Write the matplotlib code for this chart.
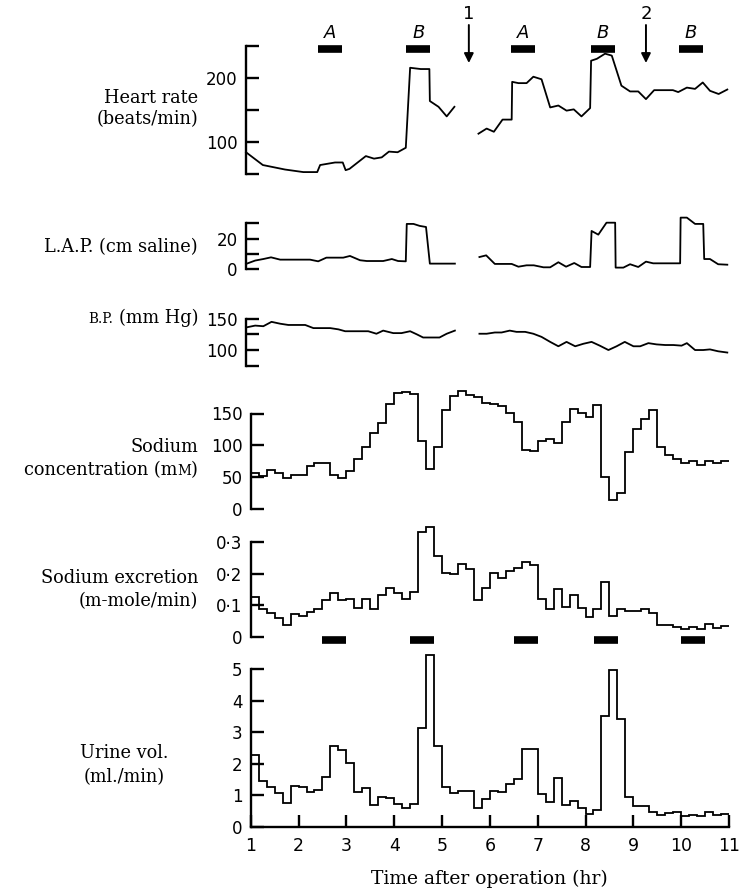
import numpy as np
import matplotlib
matplotlib.use("Agg")
import matplotlib.pyplot as plt
from matplotlib.transforms import blended_transform_factory

nan = np.nan

# Heart rate (beats/min), sampled every few minutes; gap while the animal was handled
hr_time = [1.00, 1.35, 1.81, 2.19, 2.48, 2.54, 2.85, 3.01, 3.07, 3.15, 3.49, 3.66, 3.82, 3.97,
           4.15, 4.32, 4.41, 4.63, 4.81, 4.82, 5.00, 5.17, 5.33, nan,
           5.83, 6.00, 6.15, 6.33, 6.52, 6.53, 6.66, 6.83, 6.97, 7.14, 7.32, 7.49, 7.66, 7.81,
           7.97, 8.15, 8.17, 8.29, 8.46, 8.60, 8.80, 8.98, 9.15, 9.31, 9.48, 9.67, 9.87, 9.98,
           10.16, 10.33, 10.49, 10.64, 10.82, 11.00]
hr_rate = [84, 64, 57, 53, 53, 64, 68, 68, 56, 58, 78, 74, 76, 85,
           84, 91, 216, 214, 214, 164, 155, 140, 155, nan,
           113, 121, 116, 135, 135, 194, 192, 192, 202, 198, 154, 157, 149, 151,
           140, 153, 227, 230, 238, 235, 188, 179, 179, 167, 181, 181, 181, 178,
           185, 183, 193, 180, 175, 182]

# Left atrial pressure (cm saline)
lap_time = [1.00, 1.19, 1.36, 1.52, 1.71, 1.85, 2.05, 2.33, 2.50, 2.67, 2.85, 3.02, 3.16, 3.37,
            3.51, 3.68, 3.85, 4.03, 4.16, 4.32, 4.34, 4.48, 4.61, 4.74, 4.82, 5.00, 5.17, 5.34, nan,
            5.85, 5.99, 6.17, 6.35, 6.52, 6.66, 6.83, 6.98, 7.18, 7.32, 7.49, 7.65, 7.82, 7.97,
            8.15, 8.18, 8.32, 8.49, 8.67, 8.68, 8.84, 8.98, 9.15, 9.31, 9.46, 9.64, 9.81, 10.02,
            10.03, 10.16, 10.33, 10.50, 10.52, 10.64, 10.81, 11.00]
lap_val = [3.5, 5.7, 6.7, 7.8, 6.3, 6.3, 6.3, 6.3, 5.2, 7.6, 7.6, 7.6, 8.7, 5.9,
           5.4, 5.4, 5.4, 6.7, 5.4, 5.2, 29.6, 29.6, 28.3, 27.6, 3.7, 3.7, 3.7, 3.7, nan,
           8.0, 9.1, 3.5, 3.5, 3.5, 1.7, 2.6, 2.6, 1.3, 1.3, 4.6, 1.7, 4.1, 1.5,
           1.5, 25.0, 22.6, 30.4, 30.4, 1.1, 1.1, 3.3, 1.5, 5.0, 3.9, 3.9, 3.9, 3.9,
           33.7, 33.7, 29.6, 29.6, 6.7, 6.7, 3.3, 3.0]

# Arterial blood pressure (mm Hg)
bp_time = [1.00, 1.19, 1.36, 1.53, 1.71, 1.88, 2.05, 2.23, 2.40, 2.57, 2.75, 2.92, 3.06, 3.23,
           3.37, 3.54, 3.71, 3.85, 4.06, 4.23, 4.41, 4.55, 4.68, 4.86, 5.02, 5.17, 5.34, nan,
           5.85, 6.00, 6.17, 6.31, 6.48, 6.62, 6.80, 6.97, 7.14, 7.32, 7.49, 7.66, 7.84, 8.01,
           8.18, 8.35, 8.53, 8.70, 8.87, 9.05, 9.19, 9.36, 9.53, 9.71, 9.88, 10.05, 10.16, 10.33,
           10.50, 10.64, 10.81, 11.00]
bp_val = [136, 139, 138, 145, 142, 140, 140, 140, 135, 135, 135, 133, 130, 130,
          130, 130, 126, 131, 127, 127, 130, 125, 120, 120, 120, 126, 131, nan,
          126, 126, 128, 128, 131, 129, 129, 126, 121, 113, 106, 113, 106, 110,
          113, 107, 100, 106, 113, 106, 106, 111, 109, 108, 108, 107, 111, 100,
          100, 101, 98, 96]

# Urine collected in 10-min periods from 1 to 11 hr
period_edges = np.linspace(1, 11, 61)
na_conc = [57, 52, 61, 56, 49, 54, 54, 68, 72, 72,
           54, 49, 59, 79, 97, 119, 135, 165, 182, 184,
           180, 107, 63, 97, 156, 178, 186, 179, 176, 166,
           165, 161, 151, 137, 92, 91, 107, 110, 104, 136,
           157, 151, 144, 163, 50, 14, 25, 90, 125, 141,
           155, 97, 85, 78, 72, 75, 69, 76, 72, 76]
na_excr = [0.127, 0.087, 0.076, 0.058, 0.037, 0.071, 0.067, 0.080, 0.087, 0.117,
           0.140, 0.117, 0.121, 0.090, 0.121, 0.089, 0.133, 0.154, 0.140, 0.119,
           0.141, 0.332, 0.350, 0.257, 0.201, 0.198, 0.230, 0.214, 0.117, 0.156,
           0.201, 0.188, 0.209, 0.217, 0.238, 0.228, 0.121, 0.089, 0.151, 0.095,
           0.134, 0.092, 0.064, 0.087, 0.174, 0.067, 0.088, 0.081, 0.081, 0.087,
           0.074, 0.037, 0.036, 0.032, 0.023, 0.030, 0.023, 0.040, 0.029, 0.034]
urine_vol = [2.28, 1.45, 1.27, 1.06, 0.77, 1.31, 1.27, 1.10, 1.17, 1.59,
             2.57, 2.44, 2.03, 1.11, 1.22, 0.68, 0.95, 0.91, 0.72, 0.61,
             0.72, 3.14, 5.46, 2.57, 1.25, 1.06, 1.15, 1.15, 0.61, 0.88,
             1.15, 1.09, 1.36, 1.53, 2.48, 2.48, 1.05, 0.78, 1.54, 0.68,
             0.82, 0.59, 0.41, 0.52, 3.51, 4.98, 3.43, 0.94, 0.67, 0.67,
             0.47, 0.39, 0.43, 0.48, 0.35, 0.38, 0.33, 0.48, 0.39, 0.42]

# Stimulation periods and events
stim_start = [2.5, 4.33, 6.5, 8.17, 10.0]
stim_end = [3.0, 4.83, 7.0, 8.67, 10.5]
stim_label = ['A', 'B', 'A', 'B', 'B']
event_time = [5.63, 9.31]
event_label = ['1', '2']

W, H = 741, 890
SERIF = 'DejaVu Serif'
SANS = 'DejaVu Sans'
LW_AX = 1.7
LW_DATA = 1.3
FS_TICK = 12
FS_LAB = 12.8

fig = plt.figure(figsize=(W / 100, H / 100), dpi=100)


def panel(left, right, top, bottom, ylim, yticks, ylabels):
    ax = fig.add_axes([left / W, 1 - bottom / H, (right - left) / W, (bottom - top) / H])
    ax.patch.set_visible(False)
    ax.set_xlim(1, 11)
    ax.set_ylim(*ylim)
    for s in ['top', 'right', 'bottom']:
        ax.spines[s].set_visible(False)
    ax.spines['left'].set_linewidth(LW_AX)
    ax.set_yticks(yticks)
    ax.set_yticklabels(ylabels, fontfamily=SANS, fontsize=FS_TICK)
    ax.tick_params(axis='y', direction='in', length=9, width=LW_AX, pad=6)
    ax.tick_params(axis='x', bottom=False, labelbottom=False)
    return ax


ax_hr = panel(246, 727.3, 46, 174, (50, 250), [50, 100, 150, 200, 250], ['', '100', '', '200', ''])
ax_hr.plot(hr_time, hr_rate, color='black', lw=LW_DATA, clip_on=False)

ax_lap = panel(246, 727.3, 223.3, 269.3, (0, 30), [0, 10, 20, 30], ['0', '', '20', ''])
ax_lap.plot(lap_time, lap_val, color='black', lw=LW_DATA, clip_on=False)

ax_bp = panel(246, 727.3, 318.7, 365.7, (75, 150), [75, 100, 125, 150], ['', '100', '', '150'])
ax_bp.plot(bp_time, bp_val, color='black', lw=LW_DATA, clip_on=False)

ax_na = panel(250.7, 729, 413.5, 509, (0, 150), [0, 50, 100, 150], ['0', '50', '100', '150'])
ax_na.stairs(na_conc, period_edges, baseline=None, color='black', lw=LW_DATA, clip_on=False)

ax_ne = panel(250.7, 729, 542.3, 636.7, (0, 0.3), [0, 0.1, 0.2, 0.3], ['0', '0·1', '0·2', '0·3'])
ax_ne.stairs(na_excr, period_edges, baseline=None, color='black', lw=LW_DATA, clip_on=False)

ax_uv = panel(250.7, 729, 669.3, 826.8, (0, 5), [0, 1, 2, 3, 4, 5], ['0', '1', '2', '3', '4', '5'])
ax_uv.stairs(urine_vol, period_edges, baseline=None, color='black', lw=LW_DATA, clip_on=False)
ax_uv.spines['bottom'].set_visible(True)
ax_uv.spines['bottom'].set_linewidth(LW_AX)
ax_uv.set_xticks(range(1, 12))
ax_uv.tick_params(axis='x', bottom=True, labelbottom=True, direction='in', length=9,
                  width=LW_AX, pad=7, labelsize=FS_TICK + 0.5)
for lab in ax_uv.get_xticklabels():
    lab.set_fontfamily(SANS)
ax_uv.set_xlabel('Time after operation (hr)', fontfamily=SERIF, fontsize=13.5, labelpad=11)

# stimulation bars and event arrows above the heart rate trace
top_tr = blended_transform_factory(ax_hr.transData, fig.transFigure)
for s, e, lab in zip(stim_start, stim_end, stim_label):
    ax_hr.plot([s, e], [1 - 49 / H] * 2, transform=top_tr, color='black', lw=5.5,
               solid_capstyle='butt', clip_on=False)
    fig.text((s + e) / 2, 1 - 33 / H, lab, transform=top_tr, ha='center', va='center',
             fontfamily=SANS, fontstyle='italic', fontsize=FS_TICK + 1)
for t, lab in zip(event_time, event_label):
    ax_hr.annotate('', xy=(t, 1 - 63 / H), xytext=(t, 1 - 25 / H), xycoords=top_tr,
                   textcoords=top_tr,
                   arrowprops=dict(arrowstyle='-|>', color='black', lw=1.4, mutation_scale=14,
                                   shrinkA=0, shrinkB=0))
    fig.text(t, 1 - 14 / H, lab, transform=top_tr, ha='center', va='center',
             fontfamily=SANS, fontsize=FS_TICK + 1)

# stimulation bars between the excretion and urine traces
low_tr = blended_transform_factory(ax_uv.transData, fig.transFigure)
for s, e in zip(stim_start, stim_end):
    ax_uv.plot([s, e], [1 - 640 / H] * 2, transform=low_tr, color='black', lw=5.5,
               solid_capstyle='butt', clip_on=False)

# panel labels, small capitals made from smaller upper-case pieces
renderer = fig.canvas.get_renderer()


def label_line(x_right, y_base, pieces):
    # pieces: (text, size, gap in px to the right of this piece)
    x = x_right
    for txt, sz, gap in reversed(pieces):
        x -= gap
        t = fig.text(x / W, 1 - y_base / H, txt, ha='right', va='baseline',
                     fontfamily=SERIF, fontsize=sz)
        x = t.get_window_extent(renderer).x0


RX = 198
SC = FS_LAB * 0.76
label_line(RX, 103, [('Heart rate', FS_LAB, 0)])
label_line(RX, 124, [('(beats/min)', FS_LAB, 0)])
label_line(RX, 252, [('L.A.P. (cm saline)', FS_LAB, 0)])
label_line(RX, 323, [('B.P.', SC, 5), ('(mm Hg)', FS_LAB, 0)])
label_line(RX, 452, [('Sodium', FS_LAB, 0)])
label_line(RX, 475, [('concentration (m', FS_LAB, 0), ('M', SC, 0), (')', FS_LAB, 0)])
label_line(RX, 583, [('Sodium excretion', FS_LAB, 0)])
label_line(RX, 606, [('(m-mole/min)', FS_LAB, 0)])
fig.text(124 / W, 1 - 758 / H, 'Urine vol.', ha='center', va='baseline', fontfamily=SERIF,
         fontsize=FS_LAB)
fig.text(124 / W, 1 - 782 / H, '(ml./min)', ha='center', va='baseline', fontfamily=SERIF,
         fontsize=FS_LAB)

fig.savefig('out.png', dpi=100)
